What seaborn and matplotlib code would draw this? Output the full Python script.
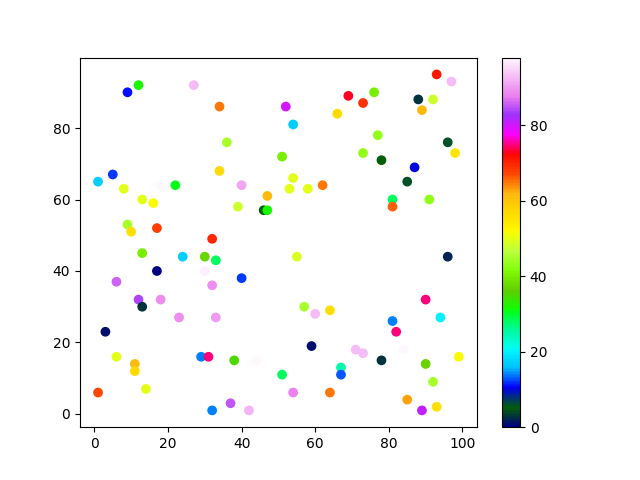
import matplotlib
matplotlib.use("Agg")
import matplotlib.pyplot as plt
import seaborn as sns
import numpy as np
from matplotlib.colors import Normalize
from matplotlib.cm import ScalarMappable

xs = [12, 9, 27, 34, 36, 51, 34, 5, 1, 8, 18, 22, 40,
      93, 97, 69, 76, 73, 52, 88, 92, 89, 66, 54, 77, 96, 98, 73, 78, 87, 85, 54, 53, 58, 62,
      13, 16, 47, 39, 46, 47, 9, 10, 17, 32, 13, 24, 30, 33, 17, 30, 40, 6, 32, 12, 18, 13,
      81, 81, 91, 55, 96, 90,
      23, 33, 3, 6, 29, 31, 38, 44, 11, 11, 14, 1, 37, 32, 42, 51,
      57, 60, 64, 81, 94, 82, 59, 71, 73, 78, 84, 99, 90, 67, 67, 92, 54, 64, 85, 89, 93]
ys = [92, 90, 92, 86, 76, 72, 68, 67, 65, 63, 64, 64, 64,
      95, 93, 89, 90, 87, 86, 88, 88, 85, 84, 81, 78, 76, 73, 73, 71, 69, 65, 66, 63, 63, 64,
      60, 59, 61, 58, 57, 57, 53, 51, 52, 49, 45, 44, 44, 43, 40, 40, 38, 37, 36, 32, 32, 30,
      60, 58, 60, 44, 44, 32,
      27, 27, 23, 16, 16, 16, 15, 15, 14, 12, 7, 6, 3, 1, 1, 11,
      30, 28, 29, 26, 27, 23, 19, 18, 17, 15, 18, 16, 14, 13, 11, 9, 6, 6, 4, 1, 2]
cs = [32, 11, 93, 65, 45, 40, 57, 12, 17, 50, 98, 31, 91,
      71, 93, 73, 40, 69, 80, 3, 48, 62, 57, 17, 43, 6, 55, 43, 5, 10, 6, 50, 50, 50, 65,
      50, 52, 62, 48, 5, 32, 45, 56, 68, 70, 40, 17, 37, 28, 0, 97, 12, 86, 89, 84, 89, 3,
      28, 66, 43, 49, 2, 75,
      89, 90, 1, 50, 14, 75, 35, 98, 62, 57, 50, 67, 85, 14, 92, 28,
      45, 93, 56, 14, 20, 75, 1, 93, 93, 3, 98, 52, 37, 25, 13, 45, 88, 65, 63, 81, 56]

fig, ax = plt.subplots(figsize=(6.4, 4.8), dpi=100)
norm = Normalize(vmin=min(cs), vmax=max(cs))
sns.scatterplot(x=np.array(xs), y=np.array(ys), hue=np.array(cs), palette="gist_ncar",
                hue_norm=norm, legend=False, s=36, linewidth=1.0, edgecolor="face", ax=ax)
sm = ScalarMappable(norm=norm, cmap="gist_ncar")
fig.colorbar(sm, ax=ax)
fig.savefig("out.png")
